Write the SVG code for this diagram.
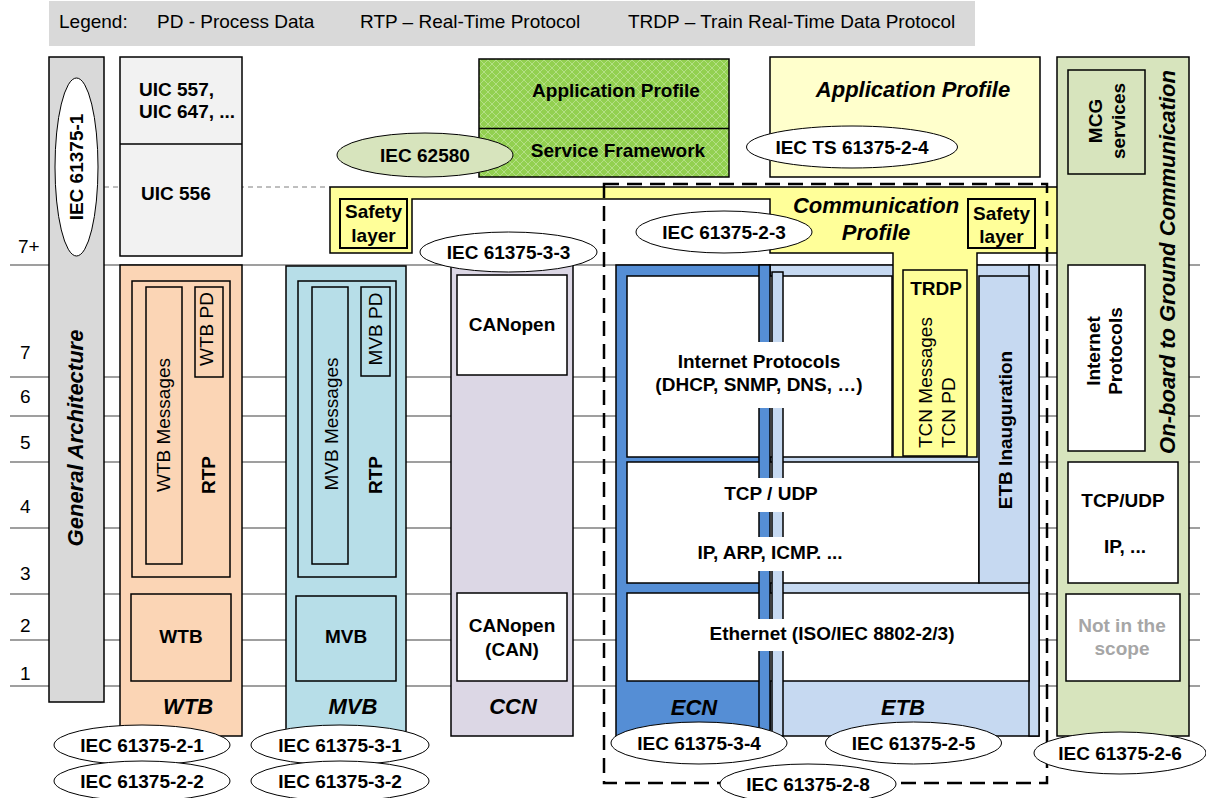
<svg xmlns="http://www.w3.org/2000/svg" width="1206" height="798" viewBox="0 0 1206 798">
<defs>
<style>
text{font-family:"Liberation Sans",Arial,sans-serif;font-size:19px;fill:#000}
.b{font-weight:bold}
.bi{font-weight:bold;font-style:italic;font-size:22px}
.c{text-anchor:middle}
.ln{stroke:#000;stroke-width:1.5}
.lay{stroke:#7f7f7f;stroke-width:1.5}
.ell{fill:#fff;stroke:#000;stroke-width:1}
.gray{fill:#a6a6a6}
</style>
<pattern id="lattice" width="8" height="8" patternUnits="userSpaceOnUse">
<rect width="8" height="8" fill="#92d050"/>
<path d="M0,4 L4,0 L8,4 L4,8 Z" fill="none" stroke="#b3df85" stroke-width="1"/>
</pattern>
</defs>
<rect width="1206" height="798" fill="#fff"/>

<!-- legend bar -->
<g id="legend">
<rect x="49" y="1" width="926" height="45" fill="#d9d9d9"/>
<text x="59" y="28">Legend:</text>
<text x="157" y="28">PD - Process Data</text>
<text x="360" y="28">RTP – Real-Time Protocol</text>
<text x="628" y="28">TRDP – Train Real-Time Data Protocol</text>
</g>

<!-- OSI layer grid -->
<g id="layers">
<line class="lay" x1="10" y1="265" x2="1200" y2="265"/>
<line class="lay" x1="10" y1="377" x2="1200" y2="377"/>
<line class="lay" x1="10" y1="416" x2="1200" y2="416"/>
<line class="lay" x1="10" y1="462" x2="1200" y2="462"/>
<line class="lay" x1="10" y1="528" x2="1200" y2="528"/>
<line class="lay" x1="10" y1="594" x2="1200" y2="594"/>
<line class="lay" x1="10" y1="640" x2="1200" y2="640"/>
<line class="lay" x1="10" y1="686" x2="1200" y2="686"/>
<line x1="104" y1="187" x2="330" y2="187" stroke="#7f7f7f" stroke-width="1" stroke-dasharray="5 4"/>
<text x="18" y="253">7+</text>
<text x="20" y="359">7</text>
<text x="20" y="403">6</text>
<text x="20" y="449">5</text>
<text x="20" y="513">4</text>
<text x="20" y="580">3</text>
<text x="20" y="632">2</text>
<text x="20" y="680">1</text>
</g>

<g id="connectors"></g>

<g id="general-architecture">
<rect class="ln" x="49" y="57" width="55" height="645" fill="#d9d9d9"/>
<ellipse class="ell" cx="76.5" cy="167" rx="21.5" ry="89"/>
<text class="b c" transform="translate(82.5,167) rotate(-90)">IEC 61375-1</text>
<text class="bi c" transform="translate(83,438) rotate(-90)">General Architecture</text>
</g>

<g id="uic">
<rect class="ln" x="120" y="57" width="122" height="199" fill="#f2f2f2"/>
<line class="ln" x1="120" y1="144" x2="242" y2="144"/>
<text class="b" x="139" y="96">UIC 557,</text>
<text class="b" x="139" y="118">UIC 647, ...</text>
<text class="b" x="141" y="200">UIC 556</text>
</g>

<g id="wtb">
<rect class="ln" x="120" y="265" width="122" height="471" fill="#fbd5b5"/>
<rect class="ln" x="132" y="281" width="98" height="296" fill="none"/>
<rect class="ln" x="146" y="287" width="36" height="277" fill="none"/>
<rect class="ln" x="195" y="287" width="28" height="90" fill="none"/>
<rect class="ln" x="131" y="594" width="100" height="87" fill="none"/>
<text class="c" transform="translate(170,425) rotate(-90)">WTB Messages</text>
<text class="c" transform="translate(213,329) rotate(-90)">WTB PD</text>
<text class="b c" transform="translate(215,475) rotate(-90)">RTP</text>
<text class="b c" x="181" y="643">WTB</text>
<text class="bi c" x="188" y="714">WTB</text>
</g>

<g id="mvb">
<rect class="ln" x="286" y="266" width="120" height="470" fill="#b7dee8"/>
<rect class="ln" x="298" y="281" width="98" height="296" fill="none"/>
<rect class="ln" x="312" y="287" width="36" height="277" fill="none"/>
<rect class="ln" x="361" y="287" width="29" height="89" fill="none"/>
<rect class="ln" x="296" y="596" width="100" height="85" fill="none"/>
<text class="c" transform="translate(337.5,424) rotate(-90)">MVB Messages</text>
<text class="c" transform="translate(381.5,329) rotate(-90)">MVB PD</text>
<text class="b c" transform="translate(381.5,475) rotate(-90)">RTP</text>
<text class="b c" x="346" y="643">MVB</text>
<text class="bi c" x="353" y="714">MVB</text>
</g>

<g id="ccn">
<rect class="ln" x="451" y="262" width="122" height="474" fill="#dcd7e5"/>
<rect class="ln" x="457" y="275" width="110" height="100" fill="#fff"/>
<rect class="ln" x="457" y="593" width="110" height="88" fill="#fff"/>
<text class="b c" x="512" y="331">CANopen</text>
<text class="b c" x="512" y="632">CANopen</text>
<text class="b c" x="512" y="656">(CAN)</text>
<text class="bi c" x="513" y="714">CCN</text>
</g>

<g id="ecn-etb">
<rect class="ln" x="616" y="265" width="154" height="471" fill="#558ed5"/>
<rect class="ln" x="770" y="265" width="269" height="471" fill="#c6d9f1"/>
<rect class="ln" x="1029" y="265" width="10" height="471" fill="#c6d9f1"/>
<rect class="ln" x="627" y="276" width="265" height="181" fill="#fff"/>
<rect class="ln" x="627" y="462" width="352" height="121" fill="#fff"/>
<rect class="ln" x="979" y="276" width="50" height="307" fill="#c6d9f1"/>
<rect class="ln" x="627" y="593" width="402" height="88" fill="#fff"/>
<rect class="ln" x="759" y="265" width="11" height="471" fill="#558ed5"/>
<rect class="ln" x="772" y="272" width="11" height="464" fill="#c6d9f1"/>
<rect x="756" y="342" width="29" height="66" fill="#fff"/>
<rect x="756" y="478" width="29" height="34" fill="#fff"/>
<rect x="756" y="537" width="29" height="34" fill="#fff"/>
<rect x="756" y="619" width="29" height="32" fill="#fff"/>
<text class="b c" x="759" y="368">Internet Protocols</text>
<text class="b c" x="759" y="391">(DHCP, SNMP, DNS, …)</text>
<text class="b c" x="771" y="500">TCP / UDP</text>
<text class="b c" x="770" y="559">IP, ARP, ICMP. ...</text>
<text class="b c" x="832" y="640">Ethernet (ISO/IEC 8802-2/3)</text>
<text class="b c" transform="translate(1012,430) rotate(-90)">ETB Inauguration</text>
<text class="bi c" x="694" y="715">ECN</text>
<text class="bi c" x="903" y="715">ETB</text>
</g>

<g id="communication-profile">
<path class="ln" d="M330,187 H1111 V253 H977 V457 H893 V253 H770 V199 H412 V253 H330 Z" fill="#ffff99"/>
<rect x="340" y="199" width="67" height="49" fill="#ffff99" stroke="#000" stroke-width="2"/>
<text class="b c" x="373.5" y="218">Safety</text>
<text class="b c" x="373.5" y="242">layer</text>
<rect x="968" y="199" width="67" height="49" fill="#ffff99" stroke="#000" stroke-width="2"/>
<text class="b c" x="1001.5" y="220">Safety</text>
<text class="b c" x="1001.5" y="243">layer</text>
<text class="bi c" x="876" y="213">Communication</text>
<text class="bi c" x="876" y="240">Profile</text>
<rect class="ln" x="903" y="270" width="64" height="186" fill="#ffff99"/>
<text class="b c" x="936" y="295">TRDP</text>
<text transform="translate(932,448) rotate(-90)">TCN Messages</text>
<text transform="translate(955,448) rotate(-90)">TCN PD</text>
</g>

<g id="service-framework">
<rect class="ln" x="479" y="59" width="250" height="118" fill="url(#lattice)"/>
<line class="ln" x1="479" y1="128.5" x2="729" y2="128.5"/>
<text class="b c" x="616" y="97">Application Profile</text>
<text class="b c" x="618" y="157">Service Framework</text>
</g>

<g id="application-profile">
<rect class="ln" x="770" y="57" width="270" height="120" fill="#ffffcc"/>
<text class="bi c" x="913" y="97">Application Profile</text>
</g>

<g id="onboard-ground">
<rect class="ln" x="1057" y="57" width="132" height="679" fill="#d7e4bd"/>
<rect class="ln" x="1068" y="70" width="77" height="104" fill="#d7e4bd"/>
<text class="b c" transform="translate(1102,121) rotate(-90)">MCG</text>
<text class="b c" transform="translate(1125,121) rotate(-90)">services</text>
<rect class="ln" x="1068" y="265" width="77" height="186" fill="#fff"/>
<text class="b c" transform="translate(1100,351) rotate(-90)">Internet</text>
<text class="b c" transform="translate(1122,351) rotate(-90)">Protocols</text>
<rect class="ln" x="1068" y="462" width="110" height="121" fill="#fff"/>
<text class="b c" x="1123" y="507">TCP/UDP</text>
<text class="b c" x="1125" y="553">IP, ...</text>
<rect class="ln" x="1066" y="594" width="114" height="87" fill="#fff"/>
<text class="b c gray" x="1122" y="632">Not in the</text>
<text class="b c gray" x="1122" y="655">scope</text>
<text class="bi c" transform="translate(1175,262) rotate(-90)">On-board to Ground Communication</text>
</g>

<g id="iec-61375-2-8-scope">
<rect x="604" y="184" width="443" height="599" fill="none" stroke="#000" stroke-width="2.5" stroke-dasharray="15 8"/>
</g>

<g id="standards">
<ellipse cx="425" cy="155" rx="88" ry="22" fill="#d7e4bd" stroke="#000" stroke-width="1"/>
<text class="b c" x="425" y="162">IEC 62580</text>
<ellipse class="ell" cx="852" cy="147" rx="105.5" ry="21"/>
<text class="b c" x="852" y="154">IEC TS 61375-2-4</text>
<ellipse class="ell" cx="508.5" cy="252" rx="88.5" ry="20"/>
<text class="b c" x="508.5" y="259">IEC 61375-3-3</text>
<ellipse class="ell" cx="724" cy="232" rx="88" ry="21"/>
<text class="b c" x="724" y="239">IEC 61375-2-3</text>
<ellipse class="ell" cx="142" cy="745" rx="88" ry="20"/>
<text class="b c" x="142" y="752">IEC 61375-2-1</text>
<ellipse class="ell" cx="142" cy="781" rx="88" ry="20"/>
<text class="b c" x="142" y="788">IEC 61375-2-2</text>
<ellipse class="ell" cx="340" cy="745" rx="89" ry="20"/>
<text class="b c" x="340" y="752">IEC 61375-3-1</text>
<ellipse class="ell" cx="340" cy="781" rx="89" ry="20"/>
<text class="b c" x="340" y="788">IEC 61375-3-2</text>
<ellipse class="ell" cx="699" cy="743" rx="88" ry="21"/>
<text class="b c" x="699" y="750">IEC 61375-3-4</text>
<ellipse class="ell" cx="913.5" cy="743" rx="88" ry="21"/>
<text class="b c" x="913.5" y="750">IEC 61375-2-5</text>
<ellipse class="ell" cx="808" cy="784" rx="88" ry="20"/>
<text class="b c" x="808" y="791">IEC 61375-2-8</text>
<ellipse class="ell" cx="1120" cy="753" rx="86" ry="21"/>
<text class="b c" x="1120" y="760">IEC 61375-2-6</text>
</g>
</svg>
